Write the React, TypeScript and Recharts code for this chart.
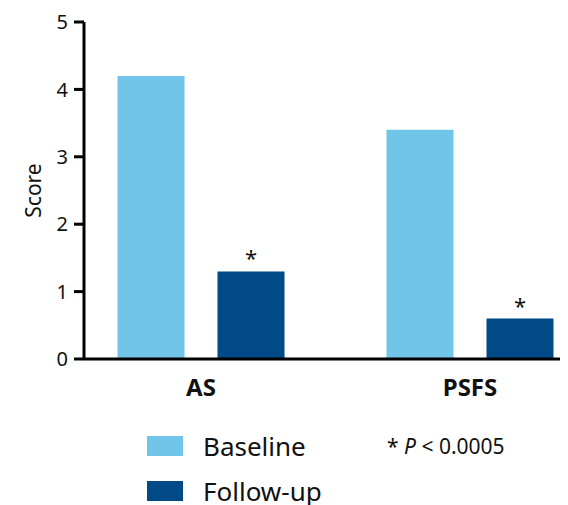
import React from 'react';
import { BarChart, Bar, XAxis, YAxis, Legend, LabelList } from 'recharts';

const categories = ['AS', 'PSFS'];
const baselineValues = [4.2, 3.4];
const followUpValues = [1.3, 0.6];
const significance = ['*', '*'];
const yTicks = [0, 1, 2, 3, 4, 5];

const LIGHT = '#71C5E8';
const DARK = '#004B87';
const FONT = '"Noto Sans", sans-serif';

const data = categories.map((c, i) => ({
  name: c,
  baseline: baselineValues[i],
  followUp: followUpValues[i],
  sig: significance[i],
}));

const ScoreLabel = (props: any) => {
  const vb = props.viewBox || {};
  const x = (vb.x || 0) + 25;
  const y = (vb.y || 0) + (vb.height || 0) / 2;
  return (
    <text x={x} y={y} transform={`rotate(-90, ${x}, ${y})`} textAnchor="middle" dominantBaseline="central"
      fontFamily={FONT} fontSize={21} fill="#111">Score</text>
  );
};

const LegendContent = (props: any) => {
  const items = props.payload || [];
  return (
    <div style={{ position: 'relative', fontFamily: FONT, color: '#111' }}>
      {items.map((it: any, i: number) => (
        <div key={i} style={{ display: 'flex', alignItems: 'center', height: 20, marginBottom: 25 }}>
          <div style={{ width: 36, height: 20, background: it.color }} />
          <span style={{ marginLeft: 20, fontSize: 26, lineHeight: '20px' }}>{it.value}</span>
        </div>
      ))}
      <div style={{ position: 'absolute', left: 240, top: 0, height: 20, lineHeight: '20px', fontSize: 21, whiteSpace: 'nowrap' }}>
        * <i>P</i> &lt; 0.0005
      </div>
    </div>
  );
};

export default function App() {
  return (
    <BarChart width={560} height={497} data={data} margin={{ top: 14, right: 0, bottom: 86, left: 0 }}
      barSize={67} barGap={33}>
      <XAxis dataKey="name" axisLine={{ stroke: '#000', strokeWidth: 3 }} tickLine={false}
        tickSize={10} tickMargin={10} height={60} padding={{ left: -17.5, right: -36.5 }}
        tick={{ fill: '#111', fontSize: 24, fontWeight: 700, fontFamily: FONT }} />
      <YAxis domain={[0, 5]} ticks={yTicks} width={76} interval={0}
        axisLine={{ stroke: '#000', strokeWidth: 3 }} tickLine={{ stroke: '#000', strokeWidth: 3 }}
        tickSize={10} tickMargin={6}
        tick={{ fill: '#111', fontSize: 20, fontFamily: FONT }}
        label={<ScoreLabel />} />
      <Legend content={<LegendContent />} layout="horizontal" verticalAlign="middle" align="center"
        wrapperStyle={{ position: 'absolute', left: 139, top: 428, width: 420 }} />
      <Bar dataKey="baseline" name="Baseline" fill={LIGHT} isAnimationActive={false} />
      <Bar dataKey="followUp" name="Follow-up" fill={DARK} isAnimationActive={false}>
        <LabelList dataKey="sig" position="top" offset={5} fill="#111" fontSize={22} fontFamily={FONT} />
      </Bar>
    </BarChart>
  );
}
